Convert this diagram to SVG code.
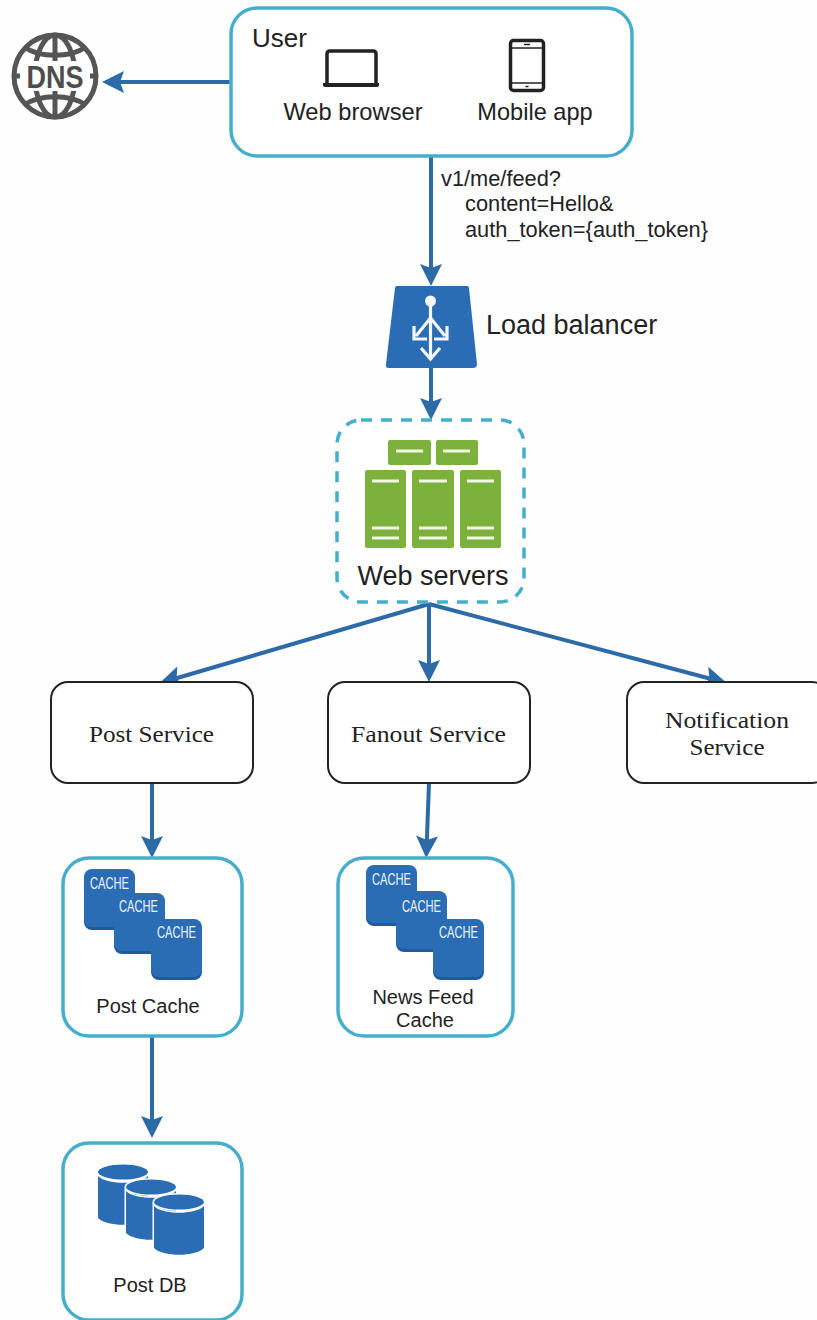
<svg xmlns="http://www.w3.org/2000/svg" width="817" height="1320" viewBox="0 0 817 1320">
<style>
.sans{font-family:"Liberation Sans",Arial,sans-serif;fill:#222}
.serif{font-family:"Liberation Serif","Times New Roman",serif;fill:#222;font-size:24px;text-anchor:middle}
.mid{text-anchor:middle}
.teal{fill:#fff;stroke:#45aecb;stroke-width:3.5}
.svc{fill:#fff;stroke:#222;stroke-width:2}
.conn{fill:none;stroke:#2c6ba8;stroke-width:4}
.blue{fill:#2b6db5}
.green{fill:#7cb13c}
.gl{stroke:#f2f7e8;stroke-width:3;fill:none}
.shadow{fill:#1f5a9a}
.ct{font-family:"Liberation Sans",Arial,sans-serif;fill:#eef5fb;font-size:17px}
.glob{fill:none;stroke:#555;stroke-width:5}
.ink{fill:none;stroke:#222;stroke-width:3.5}
.halo{stroke:#fff;stroke-width:3;paint-order:stroke}
</style>
<defs>
<marker id="ah" markerUnits="userSpaceOnUse" viewBox="0 0 24 24" markerWidth="24" markerHeight="24" refX="15" refY="12" orient="auto">
<path d="M1,1 L23,12 L1,23 L5,12 Z" fill="#2c6ba8"/>
</marker>
<g id="cacheIcon">
<rect x="0" y="2" width="51" height="59" rx="8" class="shadow"/>
<rect x="0" y="0" width="51" height="58" rx="8" class="blue"/>
</g>
<g id="cyl">
<path d="M0,4 V46 C8,55 42,55 50,46 V4 C42,13 8,13 0,4 Z" class="blue halo"/>
<ellipse cx="25" cy="0" rx="25" ry="7.500" class="blue halo"/>
</g>
</defs>
<rect width="817" height="1320" fill="#fefefe"/>

<g id="connectors">
<path class="conn" d="M231,82 H110" marker-end="url(#ah)"/>
<path class="conn" d="M431,156 V278" marker-end="url(#ah)"/>
<path class="conn" d="M431,368 V412" marker-end="url(#ah)"/>
<path class="conn" d="M429,604 L167,681" marker-end="url(#ah)"/>
<path class="conn" d="M429,604 V674" marker-end="url(#ah)"/>
<path class="conn" d="M429,604 L719,681" marker-end="url(#ah)"/>
<path class="conn" d="M152,783 V850" marker-end="url(#ah)"/>
<path class="conn" d="M429,783 L426.500,850" marker-end="url(#ah)"/>
<path class="conn" d="M152,1036 V1130" marker-end="url(#ah)"/>
</g>

<g id="dns">
<circle class="glob" cx="55" cy="76" r="41"/>
<path class="glob" d="M55,35 V117"/>
<ellipse class="glob" cx="55" cy="76" rx="20" ry="41"/>
<path class="glob" d="M24,47 C40,58 70,58 86,47 M24,105 C40,94 70,94 86,105"/>
<rect x="20" y="61" width="70" height="30" fill="#fefefe"/>
<path d="M14,76 H20 M90,76 H96" class="glob"/>
<text x="55" y="88" font-family="Liberation Sans, Arial, sans-serif" font-weight="bold" font-size="32" fill="#4d4d4d" text-anchor="middle" textLength="57" lengthAdjust="spacingAndGlyphs">DNS</text>
</g>

<g id="user">
<rect class="teal" x="231" y="8" width="401" height="148" rx="26"/>
<text class="sans" x="252" y="47" font-size="26">User</text>
<g id="laptop">
<path class="ink" d="M327,83 V54 Q327,51 330,51 H373 Q376,51 376,54 V83"/>
<path d="M323,83 H379 V85 Q379,87 376,87 H326 Q323,87 323,85 Z" fill="#222"/>
</g>
<text class="sans mid" x="353" y="120" font-size="23.700">Web browser</text>
<g id="phone">
<rect class="ink" x="510.500" y="40.500" width="33" height="50" rx="3"/>
<path d="M510,48 H544 M510,83 H544" stroke="#222" stroke-width="1.500" fill="none"/>
<path d="M524,44.500 H530 M525.500,86.500 H528.500" stroke="#222" stroke-width="1.500" fill="none"/>
</g>
<text class="sans mid" x="535" y="120" font-size="23.600">Mobile app</text>
</g>

<g id="request-label">
<text class="sans" x="441" y="186" font-size="21.800">v1/me/feed?</text>
<text class="sans" x="465" y="211" font-size="21.800">content=Hello&amp;</text>
<text class="sans" x="465" y="237" font-size="21.800">auth_token={auth_token}</text>
</g>

<g id="load-balancer">
<path class="blue" d="M397,286 H467 Q469,286 469,288 L477,364 Q477,368 473,368 H389 Q385,368 386,364 L395,288 Q395,286 397,286 Z"/>
<circle cx="430.500" cy="301" r="5.500" fill="#f5f8fc"/>
<path d="M430.500,304 V358 M430.500,318 L416,336 M430.500,318 L445,336 M421,348 L430.500,359 L440,348 M414,326 V339 H427 M447,326 V339 H434" fill="none" stroke="#f5f8fc" stroke-width="3.200"/>
<text class="sans" x="486" y="334" font-size="27">Load balancer</text>
</g>

<g id="web-servers">
<rect x="337" y="420" width="187" height="182" rx="24" fill="#fff" stroke="#45aecb" stroke-width="3.500" stroke-dasharray="11 9"/>
<rect class="green" x="388" y="440" width="43" height="25" rx="2"/>
<rect class="green" x="436" y="440" width="42" height="25" rx="2"/>
<path class="gl" d="M396,451 H423 M443,451 H470"/>
<rect class="green" x="365" y="470" width="41" height="78" rx="2"/>
<rect class="green" x="412" y="470" width="42" height="78" rx="2"/>
<rect class="green" x="460" y="470" width="41" height="78" rx="2"/>
<path class="gl" d="M372,481 H399 M372,528 H399 M372,538 H399 M419,481 H447 M419,528 H447 M419,538 H447 M467,481 H494 M467,528 H494 M467,538 H494"/>
<text class="sans mid" x="433" y="585" font-size="27">Web servers</text>
</g>

<g id="post-service">
<rect class="svc" x="51" y="682" width="202" height="101" rx="17"/>
<text class="serif" x="151.500" y="742" textLength="125" lengthAdjust="spacingAndGlyphs">Post Service</text>
</g>
<g id="fanout-service">
<rect class="svc" x="328" y="682" width="202" height="101" rx="17"/>
<text class="serif" x="428.500" y="742" textLength="155" lengthAdjust="spacingAndGlyphs">Fanout Service</text>
</g>
<g id="notification-service">
<rect class="svc" x="627" y="682" width="202" height="101" rx="17"/>
<text class="serif" x="727" y="728" textLength="124" lengthAdjust="spacingAndGlyphs">Notification</text>
<text class="serif" x="727" y="755" textLength="75" lengthAdjust="spacingAndGlyphs">Service</text>
</g>

<g id="post-cache">
<rect class="teal" x="63" y="858" width="179" height="178" rx="26"/>
<use href="#cacheIcon" x="84" y="869"/>
<use href="#cacheIcon" x="114" y="893"/>
<use href="#cacheIcon" x="151" y="919"/>
<text class="ct" x="90" y="889" textLength="39" lengthAdjust="spacingAndGlyphs">CACHE</text>
<text class="ct" x="119" y="912" textLength="39" lengthAdjust="spacingAndGlyphs">CACHE</text>
<text class="ct" x="157" y="938" textLength="39" lengthAdjust="spacingAndGlyphs">CACHE</text>
<text class="sans mid" x="148" y="1013" font-size="20">Post Cache</text>
</g>

<g id="news-feed-cache">
<rect class="teal" x="338" y="858" width="175" height="178" rx="26"/>
<use href="#cacheIcon" x="366" y="865"/>
<use href="#cacheIcon" x="396" y="891"/>
<use href="#cacheIcon" x="433" y="919"/>
<text class="ct" x="372" y="885" textLength="39" lengthAdjust="spacingAndGlyphs">CACHE</text>
<text class="ct" x="402" y="912" textLength="39" lengthAdjust="spacingAndGlyphs">CACHE</text>
<text class="ct" x="439" y="938" textLength="39" lengthAdjust="spacingAndGlyphs">CACHE</text>
<text class="sans mid" x="423" y="1004" font-size="20">News Feed</text>
<text class="sans mid" x="425" y="1027" font-size="20">Cache</text>
</g>

<g id="post-db">
<rect class="teal" x="63" y="1143" width="179" height="177" rx="26"/>
<use href="#cyl" x="98" y="1172"/>
<use href="#cyl" x="126" y="1187"/>
<use href="#cyl" x="154" y="1202"/>
<text class="sans mid" x="150" y="1292" font-size="20">Post DB</text>
</g>
</svg>
